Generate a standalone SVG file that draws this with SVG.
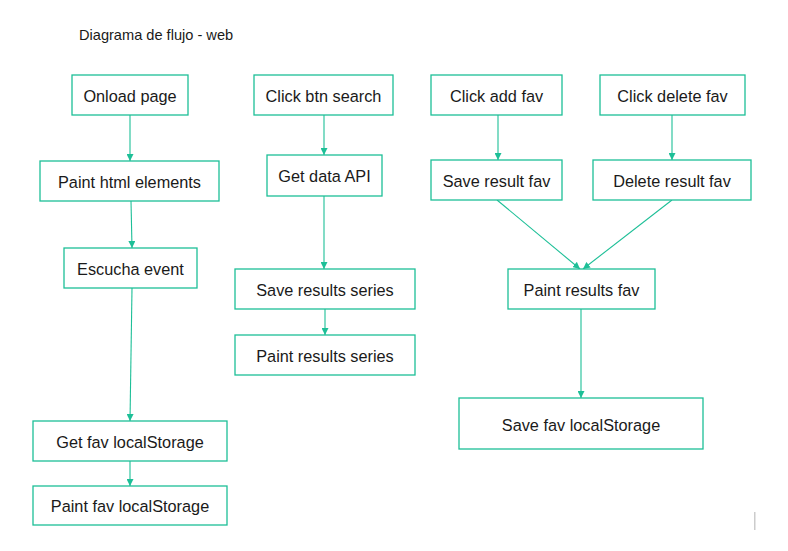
<svg xmlns="http://www.w3.org/2000/svg" width="788" height="551" viewBox="0 0 788 551">
<style>
.box{fill:#fff;stroke:#1dbf97;stroke-width:1.3}
.lbl{font-family:"Liberation Sans",Arial,sans-serif;font-size:16.3px;fill:#1a1a1a;text-anchor:middle;dominant-baseline:central}
.edge{fill:none;stroke:#1dbf97;stroke-width:1.1;marker-end:url(#ah)}
</style>
<defs>
<marker id="ah" viewBox="0 0 8 8" refX="8" refY="4" markerWidth="7" markerHeight="7" markerUnits="userSpaceOnUse" orient="auto">
<path d="M0,0 L8,4 L0,8 z" fill="#1dbf97"/>
</marker>
</defs>
<rect width="788" height="551" fill="#fff"/>
<text x="79" y="40" font-family="Liberation Sans,Arial,sans-serif" font-size="14.6" fill="#1a1a1a">Diagrama de flujo - web</text>
<rect x="754" y="512" width="1.5" height="18" fill="#cccccc"/>
<g id="connectors">
<line class="edge" x1="130" y1="115" x2="130" y2="161"/>
<line class="edge" x1="131" y1="201" x2="132" y2="248"/>
<line class="edge" x1="132" y1="288" x2="130" y2="421"/>
<line class="edge" x1="130" y1="461" x2="130" y2="486"/>
<line class="edge" x1="324" y1="115" x2="324" y2="155"/>
<line class="edge" x1="324" y1="196" x2="324" y2="269"/>
<line class="edge" x1="325" y1="309" x2="325" y2="335"/>
<line class="edge" x1="498" y1="115" x2="498" y2="160"/>
<line class="edge" x1="672" y1="115" x2="672" y2="160"/>
<line class="edge" x1="497" y1="200" x2="580" y2="269"/>
<line class="edge" x1="672" y1="200" x2="583" y2="269"/>
<line class="edge" x1="581" y1="309" x2="581" y2="398"/>
</g>
<g id="onload"><rect class="box" x="72" y="75" width="116" height="40"/><text class="lbl" x="130" y="95.5">Onload page</text></g>
<g id="paint-html"><rect class="box" x="40" y="161" width="179" height="40"/><text class="lbl" x="129.5" y="181.5">Paint html elements</text></g>
<g id="escucha"><rect class="box" x="64" y="248" width="133" height="40"/><text class="lbl" x="130.5" y="268.5">Escucha event</text></g>
<g id="get-fav"><rect class="box" x="33" y="421" width="194" height="40"/><text class="lbl" x="130" y="441.5">Get fav localStorage</text></g>
<g id="paint-fav"><rect class="box" x="33" y="486" width="194" height="39"/><text class="lbl" x="130" y="505.5">Paint fav localStorage</text></g>
<g id="click-search"><rect class="box" x="254" y="75" width="139" height="40"/><text class="lbl" x="323.5" y="95.5">Click btn search</text></g>
<g id="get-data"><rect class="box" x="267" y="155" width="115" height="41"/><text class="lbl" x="324.5" y="175.5">Get data API</text></g>
<g id="save-series"><rect class="box" x="235" y="269" width="180" height="40"/><text class="lbl" x="325" y="289.5">Save results series</text></g>
<g id="paint-series"><rect class="box" x="235" y="335" width="180" height="40"/><text class="lbl" x="325" y="355.5">Paint results series</text></g>
<g id="click-add"><rect class="box" x="431" y="75" width="131" height="40"/><text class="lbl" x="496.5" y="95.5">Click add fav</text></g>
<g id="save-fav"><rect class="box" x="431" y="160" width="131" height="40"/><text class="lbl" x="496.5" y="180.5">Save result fav</text></g>
<g id="click-delete"><rect class="box" x="600" y="75" width="145" height="40"/><text class="lbl" x="672.5" y="95.5">Click delete fav</text></g>
<g id="delete-fav"><rect class="box" x="593" y="160" width="158" height="40"/><text class="lbl" x="672" y="180.5">Delete result fav</text></g>
<g id="paint-results-fav"><rect class="box" x="508" y="269" width="147" height="40"/><text class="lbl" x="581.5" y="289.5">Paint results fav</text></g>
<g id="save-fav-ls"><rect class="box" x="459" y="398" width="244" height="51"/><text class="lbl" x="581" y="424.5">Save fav localStorage</text></g>
</svg>
